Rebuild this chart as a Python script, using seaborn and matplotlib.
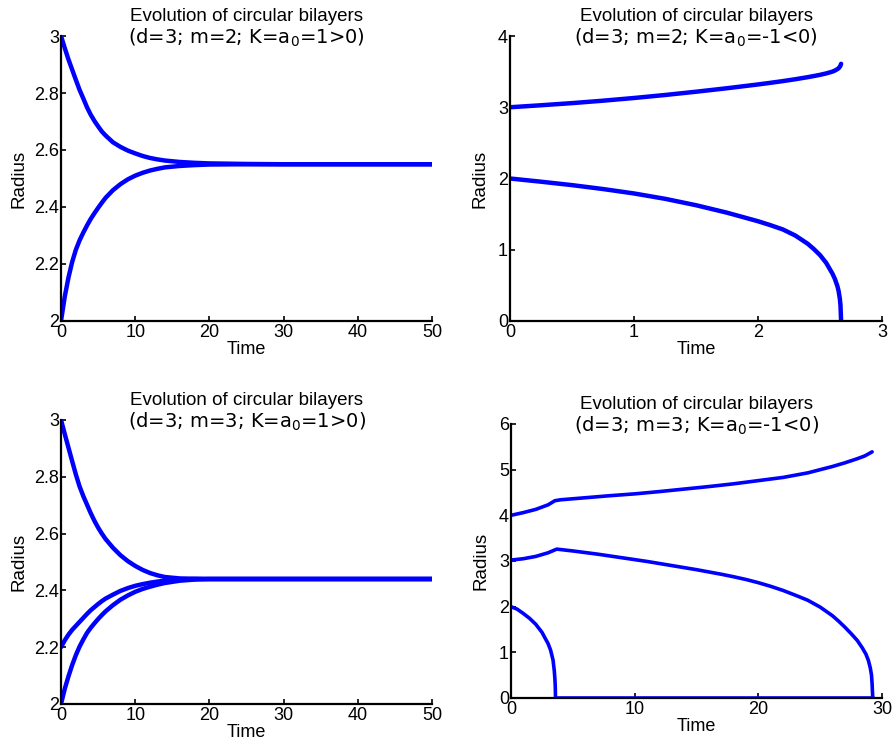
import numpy as np
import pandas as pd
import matplotlib
matplotlib.use("Agg")
import matplotlib.pyplot as plt
import seaborn as sns

# ---- data ----
# panel 1: d=3, m=2, K=a0=1
tl_time = [0, 0.5, 1, 1.5, 2, 2.5, 3, 3.5, 4, 4.5, 5, 5.5, 6, 7, 8, 9, 10, 11, 12, 13,
           14, 16, 18, 20, 25, 30, 40, 50]
tl_upper = [3.0, 2.958, 2.918, 2.882, 2.846, 2.811, 2.781, 2.75, 2.724, 2.702, 2.683,
            2.665, 2.651, 2.627, 2.611, 2.598, 2.588, 2.579, 2.572, 2.567, 2.563, 2.558,
            2.555, 2.553, 2.551, 2.55, 2.55, 2.55]
tl_lower = [2.0, 2.085, 2.152, 2.207, 2.25, 2.283, 2.31, 2.335, 2.358, 2.378, 2.397,
            2.415, 2.432, 2.459, 2.48, 2.497, 2.51, 2.52, 2.528, 2.534, 2.539, 2.544,
            2.547, 2.549, 2.55, 2.55, 2.55, 2.55]

# panel 2: d=3, m=2, K=a0=-1
tr_time = [0, 0.25, 0.5, 0.75, 1, 1.25, 1.5, 1.75, 2, 2.1, 2.2, 2.3, 2.4, 2.45, 2.5,
           2.55, 2.6, 2.62, 2.64, 2.65, 2.66, 2.665, 2.67]
tr_upper = [3.0, 3.028, 3.058, 3.092, 3.13, 3.172, 3.218, 3.267, 3.32, 3.343, 3.367,
            3.393, 3.422, 3.438, 3.455, 3.475, 3.5, 3.515, 3.535, 3.548, 3.57, 3.585, 3.61]
tr_lower = [2.0, 1.955, 1.907, 1.852, 1.79, 1.715, 1.625, 1.52, 1.4, 1.345, 1.285, 1.2,
            1.085, 1.01, 0.925, 0.815, 0.665, 0.59, 0.49, 0.42, 0.31, 0.22, 0.0]

# panel 3: d=3, m=3, K=a0=1
bl_time = [0, 0.5, 1, 1.5, 2, 2.5, 3, 3.5, 4, 4.5, 5, 5.5, 6, 7, 8, 9, 10, 11, 12, 13,
           14, 16, 18, 20, 25, 30, 40, 50]
bl_upper = [3.0, 2.951, 2.903, 2.855, 2.808, 2.766, 2.732, 2.702, 2.672, 2.645, 2.621,
            2.6, 2.581, 2.55, 2.524, 2.503, 2.486, 2.472, 2.461, 2.453, 2.447, 2.442,
            2.441, 2.44, 2.44, 2.44, 2.44, 2.44]
bl_middle = [2.2, 2.224, 2.244, 2.261, 2.275, 2.289, 2.303, 2.317, 2.33, 2.341, 2.352,
             2.362, 2.371, 2.385, 2.398, 2.408, 2.416, 2.422, 2.427, 2.431, 2.434, 2.438,
             2.44, 2.44, 2.44, 2.44, 2.44, 2.44]
bl_lower = [2.0, 2.053, 2.097, 2.137, 2.172, 2.202, 2.227, 2.25, 2.268, 2.284, 2.299,
            2.313, 2.326, 2.348, 2.367, 2.382, 2.395, 2.405, 2.413, 2.42, 2.426, 2.434,
            2.438, 2.44, 2.44, 2.44, 2.44, 2.44]

# panel 4: d=3, m=3, K=a0=-1
br_upper_time = [0, 1, 2, 3, 3.55, 4, 6, 8, 10, 12, 14, 16, 18, 20, 22, 24, 25, 26,
                 27, 28, 28.6, 29.2]
br_upper = [4.0, 4.06, 4.13, 4.23, 4.32, 4.34, 4.385, 4.43, 4.47, 4.52, 4.575, 4.63,
            4.69, 4.76, 4.83, 4.93, 5.0, 5.07, 5.15, 5.24, 5.3, 5.39]
br_middle_time = [0, 1, 2, 3, 3.7, 5, 7, 9, 11, 13, 15, 16, 17, 18, 19, 20, 21, 22, 23,
                  24, 25, 26, 26.5, 27, 27.5, 28, 28.4, 28.7, 28.9, 29.05, 29.15, 29.2,
                  29.25]
br_middle = [3.02, 3.05, 3.1, 3.18, 3.26, 3.22, 3.15, 3.07, 2.99, 2.9, 2.81, 2.76, 2.71,
             2.655, 2.595, 2.525, 2.445, 2.355, 2.25, 2.14, 1.99, 1.8, 1.68, 1.55,
             1.41, 1.26, 1.1, 0.96, 0.82, 0.66, 0.5, 0.3, 0.0]
br_lower_time = [0, 0.5, 1, 1.5, 2, 2.5, 3, 3.2, 3.4, 3.5, 3.55, 3.58, 3.6, 29.3]
br_lower = [2.0, 1.945, 1.85, 1.745, 1.615, 1.44, 1.19, 1.05, 0.83, 0.6, 0.42, 0.25,
            0.0, 0.0]

titles = ["(d=3; m=2; K=a$_0$=1>0)", "(d=3; m=2; K=a$_0$=-1<0)",
          "(d=3; m=3; K=a$_0$=1>0)", "(d=3; m=3; K=a$_0$=-1<0)"]
x_ticks = [[0, 10, 20, 30, 40, 50], [0, 1, 2, 3], [0, 10, 20, 30, 40, 50], [0, 10, 20, 30]]
y_ticks = [[2, 2.2, 2.4, 2.6, 2.8, 3], [0, 1, 2, 3, 4], [2, 2.2, 2.4, 2.6, 2.8, 3],
           [0, 1, 2, 3, 4, 5, 6]]
y_tick_labels = [["2", "2.2", "2.4", "2.6", "2.8", "3"], ["0", "1", "2", "3", "4"],
                 ["2", "2.2", "2.4", "2.6", "2.8", "3"], ["0", "1", "2", "3", "4", "5", "6"]]


def make_frame(curves):
    frames = []
    for name, (t, r) in curves.items():
        frames.append(pd.DataFrame({"time": t, "radius": r, "curve": name}))
    return pd.concat(frames, ignore_index=True)


panels = [
    make_frame({"upper": (tl_time, tl_upper), "lower": (tl_time, tl_lower)}),
    make_frame({"upper": (tr_time, tr_upper), "lower": (tr_time, tr_lower)}),
    make_frame({"upper": (bl_time, bl_upper), "middle": (bl_time, bl_middle),
                "lower": (bl_time, bl_lower)}),
    make_frame({"upper": (br_upper_time, br_upper), "middle": (br_middle_time, br_middle),
                "lower": (br_lower_time, br_lower)}),
]

sns.set_style("white")
plt.rcParams["font.family"] = ["Liberation Sans", "DejaVu Sans"]
plt.rcParams["mathtext.fontset"] = "dejavusans"
plt.rcParams["text.color"] = "black"
plt.rcParams["axes.labelcolor"] = "black"

fig = plt.figure(figsize=(8.96, 7.47), dpi=100)
positions = [
    [0.0681, 0.5703, 0.4141, 0.3815],
    [0.5692, 0.5703, 0.4152, 0.3815],
    [0.0681, 0.0576, 0.4141, 0.3802],
    [0.5703, 0.0656, 0.4141, 0.3668],
]
ylabel_pads = [4.5, 7, 4.5, 7]
line_widths = [3.2, 3.2, 3.2, 2.6]

for i, df in enumerate(panels):
    ax = fig.add_axes(positions[i])
    sns.lineplot(data=df, x="time", y="radius", units="curve", estimator=None,
                 sort=False, color="#0000ff", linewidth=line_widths[i], legend=False, ax=ax)
    ax.set_xlim(x_ticks[i][0], x_ticks[i][-1])
    ax.set_ylim(y_ticks[i][0], y_ticks[i][-1])
    ax.set_xticks(x_ticks[i])
    ax.set_xticklabels([str(v) for v in x_ticks[i]])
    ax.set_yticks(y_ticks[i])
    ax.set_yticklabels(y_tick_labels[i])
    for side in ["top", "right"]:
        ax.spines[side].set_visible(False)
    for side in ["left", "bottom"]:
        ax.spines[side].set_linewidth(1.6)
        ax.spines[side].set_color("black")
    ax.tick_params(axis="both", direction="in", length=3.5, width=1.2,
                   labelsize=13, colors="black", bottom=True, left=True)
    ax.tick_params(axis="x", pad=2.5)
    ax.tick_params(axis="y", pad=1.5)
    ax.set_xlabel("Time", fontsize=13, labelpad=0, color="black")
    ax.set_ylabel("Radius", fontsize=13.5, labelpad=ylabel_pads[i], color="black")

    ax.annotate("Evolution of circular bilayers", xy=(0.5, 1), xycoords="axes fraction",
                xytext=(0, 11), textcoords="offset points", ha="center",
                va="baseline", fontsize=13.5, family="Liberation Sans", color="black")
    ax.annotate(titles[i], xy=(0.5, 1), xycoords="axes fraction",
                xytext=(0, -5.4), textcoords="offset points", ha="center",
                va="baseline", fontsize=14, family="DejaVu Sans", color="black")

fig.savefig("out.png", dpi=100)
